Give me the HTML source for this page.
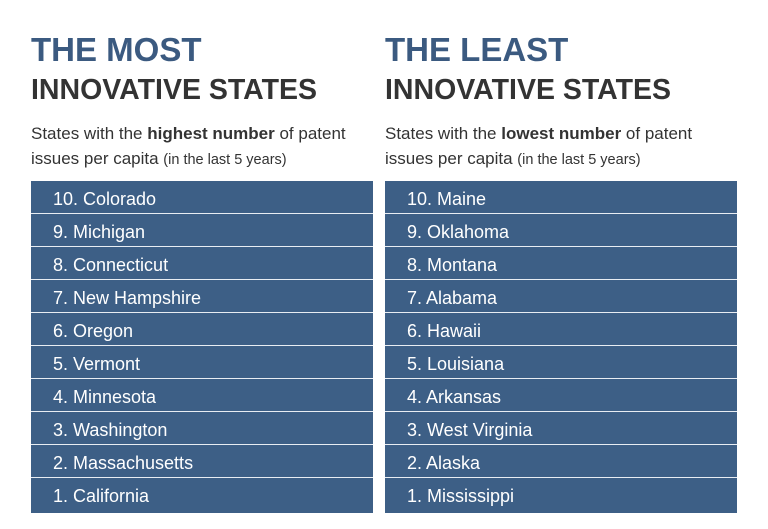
<!DOCTYPE html>
<html><head><meta charset="utf-8"><style>
body{margin:0;width:768px;height:529px;background:#fff;font-family:"Liberation Sans",sans-serif;position:relative;overflow:hidden}
.col{position:absolute;top:0}
.t1{position:absolute;top:31px;left:0;font-size:33px;font-weight:bold;color:#3b5a80;white-space:nowrap}
.t2{position:absolute;top:74px;left:0;font-size:28.5px;font-weight:bold;color:#333;white-space:nowrap}
.sub{position:absolute;top:121px;left:0;font-size:17px;line-height:25px;color:#333;white-space:nowrap}
.sub small{font-size:14.5px}
.tbl{position:absolute;top:181px;left:0;background:#3d5f86}
.row{height:30px;padding-top:2px;border-bottom:1px solid #e8edf3;color:#fff;font-size:18px;line-height:33px;padding-left:22px;box-sizing:content-box}
.row:last-child{border-bottom:none;height:33px}
</style></head><body>
<div class="col" style="left:31px;width:342px">
<div class="t1">THE MOST</div>
<div class="t2">INNOVATIVE STATES</div>
<div class="sub">States with the <b>highest number</b> of patent<br>issues per capita <small>(in the last 5 years)</small></div>
<div class="tbl" style="width:342px">
<div class="row">10. Colorado</div>
<div class="row">9. Michigan</div>
<div class="row">8. Connecticut</div>
<div class="row">7. New Hampshire</div>
<div class="row">6. Oregon</div>
<div class="row">5. Vermont</div>
<div class="row">4. Minnesota</div>
<div class="row">3. Washington</div>
<div class="row">2. Massachusetts</div>
<div class="row">1. California</div>
</div></div>
<div class="col" style="left:385px;width:352px">
<div class="t1">THE LEAST</div>
<div class="t2">INNOVATIVE STATES</div>
<div class="sub">States with the <b>lowest number</b> of patent<br>issues per capita <small>(in the last 5 years)</small></div>
<div class="tbl" style="width:352px">
<div class="row">10. Maine</div>
<div class="row">9. Oklahoma</div>
<div class="row">8. Montana</div>
<div class="row">7. Alabama</div>
<div class="row">6. Hawaii</div>
<div class="row">5. Louisiana</div>
<div class="row">4. Arkansas</div>
<div class="row">3. West Virginia</div>
<div class="row">2. Alaska</div>
<div class="row">1. Mississippi</div>
</div></div>
</body></html>
